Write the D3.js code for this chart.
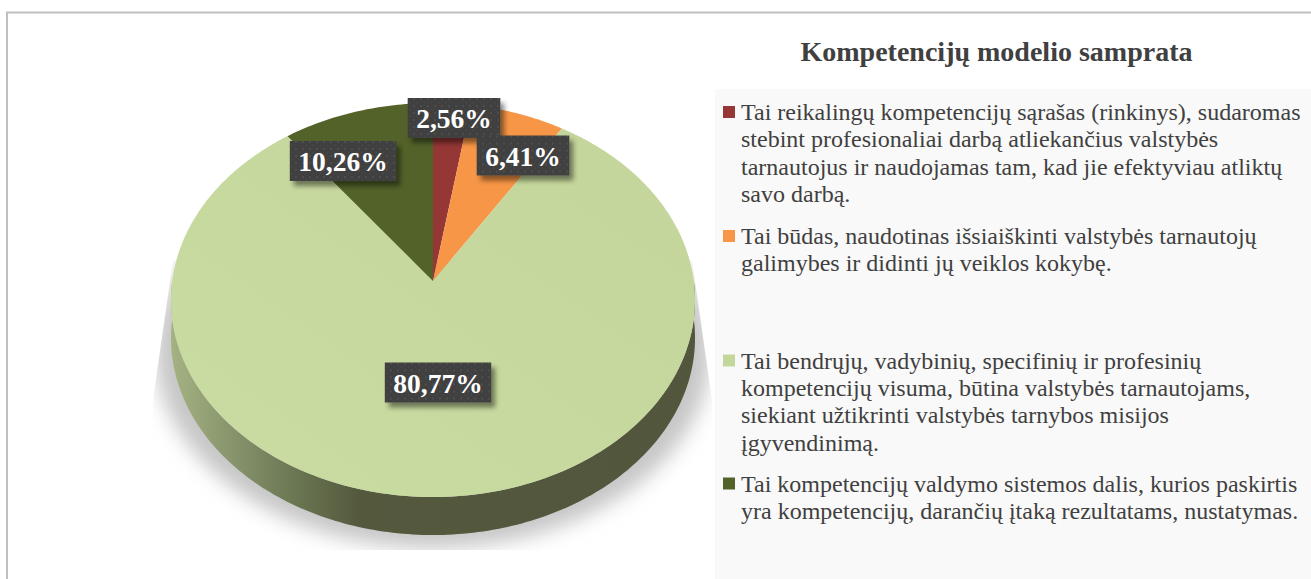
<!DOCTYPE html>
<html>
<head>
<meta charset="utf-8">
<script src="https://cdn.jsdelivr.net/npm/d3@7"></script>
<style>
  html, body { margin: 0; padding: 0; background: #fff; overflow: hidden; }
  text { font-family: "Liberation Serif", serif; }
</style>
</head>
<body>
<div id="pieChart"></div>
<script>
// chart data
var title = "Kompetencijų modelio samprata";
var categories = [
  ["Tai reikalingų kompetencijų sąrašas (rinkinys), sudaromas",
   "stebint profesionaliai darbą atliekančius valstybės",
   "tarnautojus ir naudojamas tam, kad jie efektyviau atliktų",
   "savo darbą."],
  ["Tai būdas, naudotinas išsiaiškinti valstybės tarnautojų",
   "galimybes ir didinti jų veiklos kokybę."],
  ["Tai bendrųjų, vadybinių, specifinių ir profesinių",
   "kompetencijų visuma, būtina valstybės tarnautojams,",
   "siekiant užtikrinti valstybės tarnybos misijos",
   "įgyvendinimą."],
  ["Tai kompetencijų valdymo sistemos dalis, kurios paskirtis",
   "yra kompetencijų, darančių įtaką rezultatams, nustatymas."]
];
var values = [2.56, 6.41, 80.77, 10.26];
var valueLabels = ["2,56%", "6,41%", "80,77%", "10,26%"];
var colors = ["#953735", "#f79646", "#c4d79b", "#526228"];

// layout, kept apart from the data
var width = 1311, height = 579;
var apex = {x: 433, y: 281};      // where the slices meet
var tilt = {a: 195.2, b: 260.8, k: -0.0964}; // perspective of the pie's top face
var depth = 38;
var labelCentres = [[454, 118], [523, 155.5], [438, 382.5], [343, 161]];
var legendTop = [120, 244, 368.5, 491.5];
var lineHeight = 27.4;

var svg = d3.select("#pieChart")
  .append("svg")
    .attr("width", width)
    .attr("height", height)
    .style("display", "block");

var defs = svg.append("defs");

var wallGrad = defs.append("linearGradient")
    .attr("id", "wallGrad")
    .attr("gradientUnits", "userSpaceOnUse")
    .attr("x1", 170).attr("x2", 695).attr("y1", 0).attr("y2", 0);
wallGrad.append("stop").attr("offset", "0%").attr("stop-color", "#a5b383");
wallGrad.append("stop").attr("offset", "13%").attr("stop-color", "#84916a");
wallGrad.append("stop").attr("offset", "24%").attr("stop-color", "#6a7652");
wallGrad.append("stop").attr("offset", "36%").attr("stop-color", "#54593e");
wallGrad.append("stop").attr("offset", "100%").attr("stop-color", "#52563c");

var faceGrad = defs.append("linearGradient")
    .attr("id", "faceGrad")
    .attr("x1", "0%").attr("y1", "100%").attr("x2", "100%").attr("y2", "0%");
faceGrad.append("stop").attr("offset", "0%").attr("stop-color", "#c9dca1");
faceGrad.append("stop").attr("offset", "100%").attr("stop-color", "#c3d59a");

defs.append("filter")
    .attr("id", "blurShadow")
    .attr("x", "-20%").attr("y", "-20%").attr("width", "140%").attr("height", "140%")
  .append("feGaussianBlur")
    .attr("stdDeviation", 10);

var boxShadow = defs.append("filter")
    .attr("id", "boxShadow")
    .attr("x", "-20%").attr("y", "-30%").attr("width", "150%").attr("height", "170%");
boxShadow.append("feDropShadow")
    .attr("dx", 4).attr("dy", 5).attr("stdDeviation", 2.5)
    .attr("flood-color", "#000").attr("flood-opacity", 0.45);

var dots = defs.append("pattern")
    .attr("id", "dots")
    .attr("patternUnits", "userSpaceOnUse")
    .attr("width", 7).attr("height", 7);
dots.append("rect").attr("width", 7).attr("height", 7).attr("fill", "#3f3f3f");
dots.append("circle").attr("cx", 2).attr("cy", 2).attr("r", 1).attr("fill", "#515151");
dots.append("circle").attr("cx", 5.5).attr("cy", 5.5).attr("r", 0.8).attr("fill", "#4a4a4a");

// the shadow has crisp slanted sides and is cut off flat at the bottom
defs.append("clipPath")
    .attr("id", "shadowClip")
  .append("path")
    .attr("d", "M173,260L692,260L712,400V550H153V400Z");

// frame and legend panel
svg.append("path")
    .attr("d", "M7,579V12.5H1311")
    .attr("fill", "none")
    .attr("stroke", "#bfbfbf")
    .attr("stroke-width", 2);

svg.append("rect")
    .attr("x", 715).attr("y", 89)
    .attr("width", width - 715).attr("height", height - 89)
    .attr("fill", "#f9f9f9");

// unit circle -> screen, angle 0 at the top and going clockwise
function project(angle) {
  var u = Math.sin(angle), v = -Math.cos(angle);
  var w = 1 + tilt.k * v;
  return [apex.x + tilt.b * u / w, apex.y + tilt.a * v / w];
}

var pie = d3.pie().sort(null).value(function(d) { return d; });
var data_ready = pie(values);

var line = d3.line();

function slicePath(d) {
  var steps = Math.max(2, Math.ceil((d.endAngle - d.startAngle) * 60));
  var pts = d3.range(steps + 1).map(function(i) {
    return project(d.startAngle + (d.endAngle - d.startAngle) * i / steps);
  });
  return line([[apex.x, apex.y]].concat(pts)) + "Z";
}

// shadow under the pie
var rim = d3.range(241).map(function(i) { return project(i / 240 * 2 * Math.PI); });
svg.append("g")
    .attr("clip-path", "url(#shadowClip)")
  .append("path")
    .attr("d", line(rim.map(function(p) {
      return [apex.x + (p[0] - apex.x) * 1.06, p[1] + depth + 13];
    })) + "Z")
    .attr("fill", "#c6c6c6")
    .attr("filter", "url(#blurShadow)");

// side wall: only the big slice shows at the front
var frontAngles = d3.range(Math.PI / 2, 3 * Math.PI / 2 + 0.001, Math.PI / 180);
var wall = d3.area()
    .x(function(a) { return project(a)[0]; })
    .y0(function(a) { return project(a)[1]; })
    .y1(function(a) { return project(a)[1] + depth; });
svg.append("path")
    .attr("d", wall(frontAngles))
    .attr("fill", "url(#wallGrad)");

// slices
svg.selectAll(".slice")
  .data(data_ready)
  .enter()
  .append("path")
    .attr("class", "slice")
    .attr("d", slicePath)
    .attr("fill", function(d, i) { return i == 2 ? "url(#faceGrad)" : colors[i]; });

// value labels
var labels = svg.selectAll(".valueLabel")
  .data(valueLabels)
  .enter()
  .append("g")
    .attr("class", "valueLabel")
    .attr("transform", function(d, i) { return "translate(" + labelCentres[i] + ")"; });

labels.append("text")
    .text(function(d) { return d; })
    .attr("text-anchor", "middle")
    .attr("y", 10)
    .attr("font-size", 27.5)
    .attr("font-weight", "bold")
    .attr("fill", "#fff");

labels.insert("rect", "text")
    .each(function() {
      var box = this.parentNode.querySelector("text").getBBox();
      d3.select(this)
        .attr("x", box.x - 8.5)
        .attr("width", box.width + 17)
        .attr("y", -20)
        .attr("height", 40);
    })
    .attr("fill", "url(#dots)")
    .attr("filter", "url(#boxShadow)");

// title
svg.append("text")
    .text(title)
    .attr("x", 996.5)
    .attr("y", 60.5)
    .attr("text-anchor", "middle")
    .attr("font-size", 28)
    .attr("font-weight", "bold")
    .attr("fill", "#404040");

// legend
var legend = svg.selectAll(".legendItem")
  .data(categories)
  .enter()
  .append("g")
    .attr("class", "legendItem");

legend.append("rect")
    .attr("x", 723)
    .attr("y", function(d, i) { return legendTop[i] - 14; })
    .attr("width", 12)
    .attr("height", 12)
    .attr("fill", function(d, i) { return colors[i]; });

legend.each(function(d, i) {
  d3.select(this).selectAll("text")
    .data(d)
    .enter()
    .append("text")
      .text(function(t) { return t; })
      .attr("x", 741)
      .attr("y", function(t, j) { return legendTop[i] + j * lineHeight; })
      .attr("font-size", 24)
      .attr("fill", "#404040");
});
</script>
</body>
</html>
